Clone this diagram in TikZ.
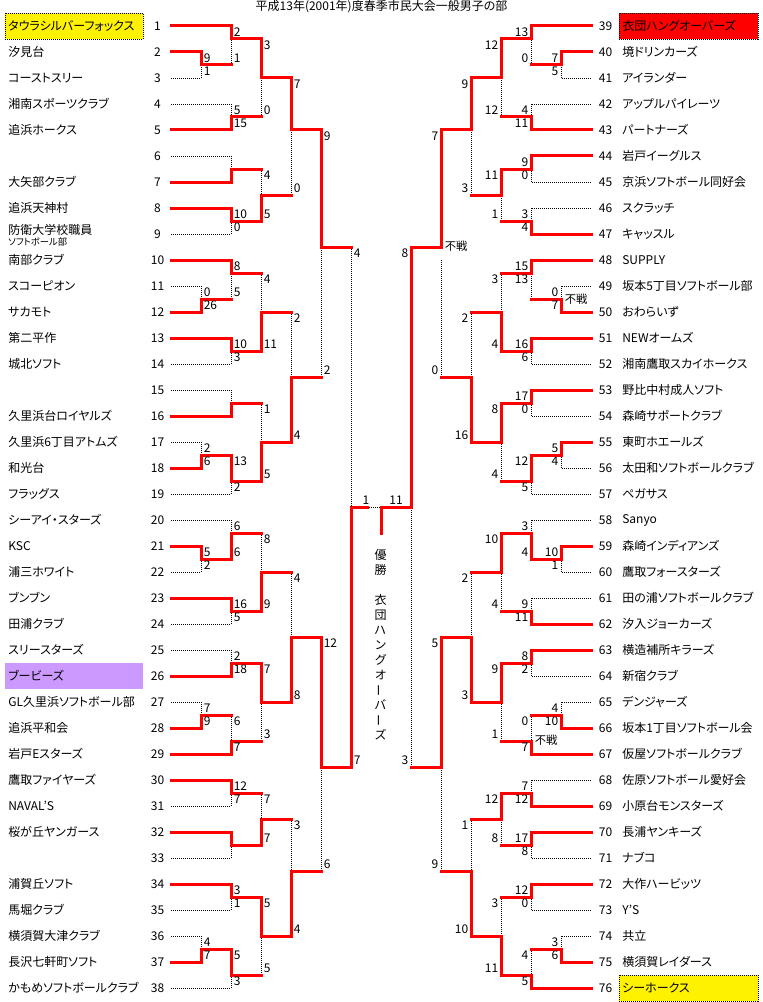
\documentclass[tikz,border=0pt]{standalone}
\usepackage{fontspec}
\setmainfont{Noto Sans CJK JP}[RawFeature={+palt}]
\newcounter{lbl}
\newcommand\fs{\fontsize{9}{10}\selectfont}
\newcommand\fsmall{\fontsize{7}{8}\selectfont}
\pgfdeclarelayer{back}
\pgfdeclarelayer{bg}
\pgfsetlayers{back,bg,main}
\definecolor{lav}{RGB}{204,153,255}
\tikzset{
  win/.style={draw=red, line width=2.25pt, line cap=rect},
  lose/.style={draw=black, line width=0.6pt, dash pattern=on 0.75pt off 0.75pt},
  sc/.style={font=\fs, inner sep=0pt},
  tname/.style={font=\fs, inner sep=0pt, anchor=west},
  tnum/.style={font=\fs, inner sep=0pt},
  fusen/.style={font=\fontsize{8.5}{9}\selectfont, inner sep=0pt, anchor=west},
  hilite/.style={draw=black, line width=0.6pt, dash pattern=on 0.75pt off 0.75pt},
  vchar/.style={font=\fs, inner sep=0pt}
}
\newcommand\seg[2]{\ifx l#1\begin{pgfonlayer}{bg}\draw[lose] #2;\end{pgfonlayer}\else\draw[win] #2;\fi}
\newcommand\score[4]{\if\relax\detokenize{#4}\relax\else\stepcounter{lbl}\node[sc,anchor=#3] (s\arabic{lbl}) at (#1,#2) {#4};\fi}
\newcommand\Lteam[4]{%
  \node[tnum] (k#1) at (157.5,{26*#1}) {#1};
  \if\relax\detokenize{#2}\relax\else\node[tname] (n#1) at (8,{26*#1}) {#2};\fi
  \seg{#3}{(171,{26*#1})--(#4,{26*#1})}}
\newcommand\Rteam[4]{%
  \node[tnum] (k#1) at (605.5,{26*(#1-38)}) {#1};
  \node[tname] (n#1) at (622,{26*(#1-38)}) {#2};
  \seg{#3}{(591,{26*(#1-38)})--(#4,{26*(#1-38)})}}
\newcommand\Lmatch[8]{%
  \if t#5\seg{w}{(#1,#2)--(#1,#4)--(#6,#4)}\seg{l}{(#1,#3)--(#1,#4)}%
  \else\seg{w}{(#1,#3)--(#1,#4)--(#6,#4)}\seg{l}{(#1,#2)--(#1,#4)}\fi
  \score{#1+2.5}{#2+6.5}{west}{#7}\score{#1+2.5}{#3-6.5}{west}{#8}}
\newcommand\Rmatch[8]{%
  \if t#5\seg{w}{(#1,#2)--(#1,#4)--(#6,#4)}\seg{l}{(#1,#3)--(#1,#4)}%
  \else\seg{w}{(#1,#3)--(#1,#4)--(#6,#4)}\seg{l}{(#1,#2)--(#1,#4)}\fi
  \score{#1-2.5}{#2+6.5}{east}{#7}\score{#1-2.5}{#3-6.5}{east}{#8}}
\begin{document}
\begin{tikzpicture}[x=0.75pt,y=-0.75pt]
\useasboundingbox (0,0) rectangle (763,1002);
\begin{pgfonlayer}{back}
\fill[white] (0,0) rectangle (763,1002);
% highlight boxes
\fill[yellow] (5,13) rectangle (143,39);
\draw[hilite] (5,13) rectangle (143,39);
\fill[lav] (5,663) rectangle (143,689);
\fill[red] (619,13) rectangle (758,39);
\draw[hilite] (619,13) rectangle (758,39);
\fill[yellow] (619,975) rectangle (758,1001);
\draw[hilite] (619,975) rectangle (758,1001);
\end{pgfonlayer}
% title
\node[font=\fs, inner sep=0pt] (title) at (381.5,6.5) {平成13年(2001年)度春季市民大会一般男子の部};
% left teams
\Lteam{1}{タウラシルバーフォックス}{w}{231}
\Lteam{2}{汐見台}{w}{201}
\Lteam{3}{コーストスリー}{l}{201}
\Lteam{4}{湘南スポーツクラブ}{l}{231}
\Lteam{5}{追浜ホークス}{w}{231}
\Lteam{6}{}{l}{231}
\Lteam{7}{大矢部クラブ}{w}{231}
\Lteam{8}{追浜天神村}{w}{231}
\Lteam{9}{}{l}{231}
\node[tname] (n9) at (8,230) {防衛大学校職員};
\node[tname, font=\fsmall] (n9b) at (8,242) {ソフトボール部};
\Lteam{10}{南部クラブ}{w}{231}
\Lteam{11}{スコーピオン}{l}{201}
\Lteam{12}{サカモト}{w}{201}
\Lteam{13}{第二平作}{w}{231}
\Lteam{14}{城北ソフト}{l}{231}
\Lteam{15}{}{l}{231}
\Lteam{16}{久里浜台ロイヤルズ}{w}{231}
\Lteam{17}{久里浜6丁目アトムズ}{l}{201}
\Lteam{18}{和光台}{w}{201}
\Lteam{19}{フラッグス}{l}{231}
\Lteam{20}{シーアイ・スターズ}{l}{231}
\Lteam{21}{KSC}{w}{201}
\Lteam{22}{浦三ホワイト}{l}{201}
\Lteam{23}{ブンブン}{w}{231}
\Lteam{24}{田浦クラブ}{l}{231}
\Lteam{25}{スリースターズ}{l}{231}
\Lteam{26}{ブービーズ}{w}{231}
\Lteam{27}{GL久里浜ソフトボール部}{l}{201}
\Lteam{28}{追浜平和会}{w}{201}
\Lteam{29}{岩戸Eスターズ}{w}{231}
\Lteam{30}{鷹取ファイヤーズ}{w}{231}
\Lteam{31}{NAVAL’S}{l}{231}
\Lteam{32}{桜が丘ヤンガース}{w}{231}
\Lteam{33}{}{l}{231}
\Lteam{34}{浦賀丘ソフト}{w}{231}
\Lteam{35}{馬堀クラブ}{l}{231}
\Lteam{36}{横須賀大津クラブ}{l}{201}
\Lteam{37}{長沢七軒町ソフト}{w}{201}
\Lteam{38}{かもめソフトボールクラブ}{l}{231}
% right teams
\Rteam{39}{衣団ハングオーバーズ}{w}{531}
\Rteam{40}{境ドリンカーズ}{w}{561}
\Rteam{41}{アイランダー}{l}{561}
\Rteam{42}{アップルパイレーツ}{l}{531}
\Rteam{43}{パートナーズ}{w}{531}
\Rteam{44}{岩戸イーグルス}{w}{531}
\Rteam{45}{京浜ソフトボール同好会}{l}{531}
\Rteam{46}{スクラッチ}{l}{531}
\Rteam{47}{キャッスル}{w}{531}
\Rteam{48}{SUPPLY}{w}{531}
\Rteam{49}{坂本5丁目ソフトボール部}{l}{561}
\Rteam{50}{おわらいず}{w}{561}
\Rteam{51}{NEWオームズ}{w}{531}
\Rteam{52}{湘南鷹取スカイホークス}{l}{531}
\Rteam{53}{野比中村成人ソフト}{w}{531}
\Rteam{54}{森崎サポートクラブ}{l}{531}
\Rteam{55}{東町ホエールズ}{w}{561}
\Rteam{56}{太田和ソフトボールクラブ}{l}{561}
\Rteam{57}{ペガサス}{l}{531}
\Rteam{58}{Sanyo}{l}{531}
\Rteam{59}{森崎インディアンズ}{w}{561}
\Rteam{60}{鷹取フォースターズ}{l}{561}
\Rteam{61}{田の浦ソフトボールクラブ}{l}{531}
\Rteam{62}{汐入ジョーカーズ}{w}{531}
\Rteam{63}{横造補所キラーズ}{w}{531}
\Rteam{64}{新宿クラブ}{l}{531}
\Rteam{65}{デンジャーズ}{l}{561}
\Rteam{66}{坂本1丁目ソフトボール会}{w}{561}
\Rteam{67}{仮屋ソフトボールクラブ}{w}{531}
\Rteam{68}{佐原ソフトボール愛好会}{l}{531}
\Rteam{69}{小原台モンスターズ}{w}{531}
\Rteam{70}{長浦ヤンキーズ}{w}{531}
\Rteam{71}{ナブコ}{l}{531}
\Rteam{72}{大作ハービッツ}{w}{531}
\Rteam{73}{Y’S}{l}{531}
\Rteam{74}{共立}{l}{561}
\Rteam{75}{横須賀レイダース}{w}{561}
\Rteam{76}{シーホークス}{w}{531}
% left matches
\Lmatch{201}{52}{78}{65}{t}{231}{9}{1}
\Lmatch{201}{286}{312}{299}{b}{231}{0}{26}
\Lmatch{201}{442}{468}{455}{b}{231}{2}{6}
\Lmatch{201}{546}{572}{559}{t}{231}{5}{2}
\Lmatch{201}{702}{728}{715}{b}{231}{7}{9}
\Lmatch{201}{936}{962}{949}{b}{231}{4}{7}
\Lmatch{231}{26}{65}{39}{t}{261}{2}{1}
\Lmatch{231}{104}{130}{117}{b}{261}{5}{15}
\Lmatch{231}{156}{182}{169}{b}{261}{}{}
\Lmatch{231}{208}{234}{221}{t}{261}{10}{0}
\Lmatch{231}{260}{299}{273}{t}{261}{8}{5}
\Lmatch{231}{338}{364}{351}{t}{261}{10}{3}
\Lmatch{231}{390}{416}{403}{b}{261}{}{}
\Lmatch{231}{455}{494}{481}{t}{261}{13}{2}
\Lmatch{231}{520}{559}{533}{b}{261}{6}{6}
\Lmatch{231}{598}{624}{611}{t}{261}{16}{5}
\Lmatch{231}{650}{676}{663}{b}{261}{2}{18}
\Lmatch{231}{715}{754}{741}{b}{261}{6}{7}
\Lmatch{231}{780}{806}{793}{t}{261}{12}{7}
\Lmatch{231}{832}{858}{845}{t}{261}{}{}
\Lmatch{231}{884}{910}{897}{t}{261}{3}{1}
\Lmatch{231}{949}{988}{975}{t}{261}{5}{3}
\Lmatch{261}{39}{117}{78}{t}{291}{3}{0}
\Lmatch{261}{169}{221}{195}{b}{291}{4}{5}
\Lmatch{261}{273}{351}{312}{b}{291}{4}{11}
\Lmatch{261}{403}{481}{442}{b}{291}{1}{5}
\Lmatch{261}{533}{611}{572}{b}{291}{8}{9}
\Lmatch{261}{663}{741}{702}{t}{291}{7}{3}
\Lmatch{261}{793}{845}{819}{b}{291}{7}{7}
\Lmatch{261}{897}{975}{936}{t}{291}{5}{5}
\Lmatch{291}{78}{195}{130}{t}{321}{7}{0}
\Lmatch{291}{312}{442}{377}{b}{321}{2}{4}
\Lmatch{291}{572}{702}{637}{b}{321}{4}{8}
\Lmatch{291}{819}{936}{871}{b}{321}{3}{4}
\Lmatch{321}{130}{377}{247}{t}{351}{9}{2}
\Lmatch{321}{637}{871}{767}{t}{351}{12}{6}
\Lmatch{351}{247}{767}{507}{b}{367}{4}{7}
% right matches
\Rmatch{561}{52}{78}{65}{t}{531}{7}{5}
\Rmatch{561}{286}{312}{299}{b}{531}{0}{7}
\Rmatch{561}{442}{468}{455}{t}{531}{5}{4}
\Rmatch{561}{546}{572}{559}{t}{531}{10}{1}
\Rmatch{561}{702}{728}{715}{b}{531}{4}{10}
\Rmatch{561}{936}{962}{949}{b}{531}{3}{6}
\Rmatch{531}{26}{65}{39}{t}{501}{13}{0}
\Rmatch{531}{104}{130}{117}{b}{501}{4}{11}
\Rmatch{531}{156}{182}{169}{t}{501}{9}{0}
\Rmatch{531}{208}{234}{221}{b}{501}{3}{4}
\Rmatch{531}{260}{299}{273}{t}{501}{15}{}
\score{528.5}{279.5}{east}{13}
\Rmatch{531}{338}{364}{351}{t}{501}{16}{6}
\Rmatch{531}{390}{416}{403}{t}{501}{17}{0}
\Rmatch{531}{455}{494}{481}{t}{501}{12}{5}
\Rmatch{531}{520}{559}{533}{b}{501}{3}{4}
\Rmatch{531}{598}{624}{611}{b}{501}{9}{11}
\Rmatch{531}{650}{676}{663}{t}{501}{8}{2}
\Rmatch{531}{715}{754}{741}{b}{501}{0}{7}
\Rmatch{531}{780}{806}{793}{b}{501}{7}{12}
\Rmatch{531}{832}{858}{845}{t}{501}{17}{8}
\Rmatch{531}{884}{910}{897}{t}{501}{12}{0}
\Rmatch{531}{949}{988}{975}{b}{501}{4}{5}
\Rmatch{501}{39}{117}{78}{t}{471}{12}{12}
\Rmatch{501}{169}{221}{195}{t}{471}{11}{1}
\Rmatch{501}{273}{351}{312}{b}{471}{3}{4}
\Rmatch{501}{403}{481}{442}{t}{471}{8}{4}
\Rmatch{501}{533}{611}{572}{t}{471}{10}{4}
\Rmatch{501}{663}{741}{702}{t}{471}{9}{1}
\Rmatch{501}{793}{845}{819}{t}{471}{12}{8}
\Rmatch{501}{897}{975}{936}{b}{471}{3}{11}
\Rmatch{471}{78}{195}{130}{t}{441}{9}{3}
\Rmatch{471}{312}{442}{377}{b}{441}{2}{16}
\Rmatch{471}{572}{702}{637}{b}{441}{2}{3}
\Rmatch{471}{819}{936}{871}{b}{441}{1}{10}
\seg{w}{(441,130)--(441,247)--(411,247)}
\seg{l}{(441,260)--(441,377)}
\score{438.5}{136.5}{east}{7}
\score{438.5}{370.5}{east}{0}
\Rmatch{441}{637}{871}{767}{t}{411}{5}{9}
\Rmatch{411}{247}{767}{507}{t}{381}{8}{3}
% forfeits
\node[fusen] (f1) at (444.5,246) {不戦};
\node[fusen] (f2) at (564.5,299) {不戦};
\node[fusen] (f3) at (534.5,740) {不戦};
% final
\seg{l}{(367,507)--(381,507)}
\seg{w}{(381,507)--(381,533)}
\node[sc] (fl) at (366,500) {1};
\node[sc] (fr) at (396,500) {11};
% champion (vertical)
\node[vchar] (v1) at (380.5,555) {優};
\node[vchar] (v2) at (380.5,570) {勝};
\node[vchar] (v3) at (380.5,600) {衣};
\node[vchar] (v4) at (380.5,615) {団};
\node[vchar] (v5) at (380.5,630) {ハ};
\node[vchar] (v6) at (380.5,645) {ン};
\node[vchar] (v7) at (380.5,660) {グ};
\node[vchar] (v8) at (380.5,675) {オ};
\node[vchar, rotate=90] (v9) at (380.5,690) {ー};
\node[vchar] (v10) at (380.5,705) {バ};
\node[vchar, rotate=90] (v11) at (380.5,720) {ー};
\node[vchar] (v12) at (380.5,735) {ズ};
\end{tikzpicture}
\end{document}
